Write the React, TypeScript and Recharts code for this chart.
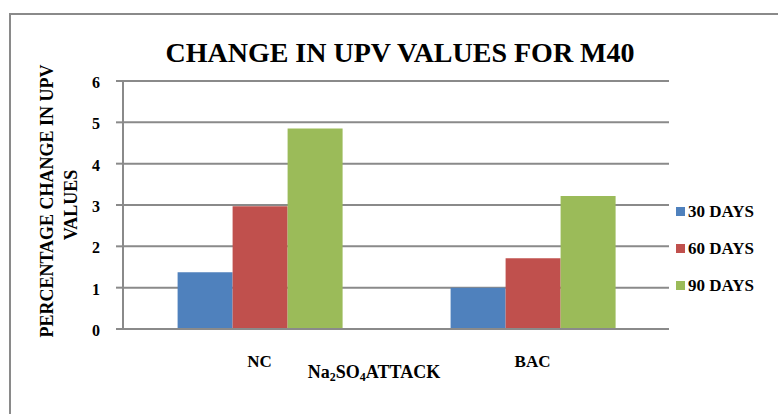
import React from 'react'
import { BarChart, Bar, XAxis, YAxis, CartesianGrid, Legend } from 'recharts'

const categories = ['NC', 'BAC']
const days30 = [1.37, 1.0]
const days60 = [2.97, 1.71]
const days90 = [4.85, 3.22]
const yTicks = [0, 1, 2, 3, 4, 5, 6]

const seriesNames = ['30 DAYS', '60 DAYS', '90 DAYS']
const seriesColors = ['#4F81BD', '#C0504D', '#9BBB59']

const data = categories.map((c, i) => ({
  name: c,
  d30: days30[i],
  d60: days60[i],
  d90: days90[i],
}))

const FONT = '"Liberation Serif", Tinos, "DejaVu Serif", serif'
const GRID = '#8a8a8a'
const txt = (size: number): React.CSSProperties => ({ fontFamily: FONT, fontWeight: 'bold', fontSize: size })

function XTick(props: any) {
  const { x, y, payload } = props
  return (
    <text x={x} y={y} dy={11} textAnchor="middle" fill="#000" style={txt(17)}>
      {payload.value}
    </text>
  )
}

function YTick(props: any) {
  const { x, y, payload } = props
  return (
    <text x={x} y={y} dy={7} textAnchor="end" fill="#000" style={txt(16)}>
      {payload.value}
    </text>
  )
}

function LegendBox(props: any) {
  const items = props.payload || []
  return (
    <div style={{ ...txt(17), color: '#000', whiteSpace: 'nowrap' }}>
      {items.map((it: any) => (
        <div key={it.value} style={{ display: 'flex', alignItems: 'center', height: 37 }}>
          <span style={{ width: 9, height: 9, flexShrink: 0, background: it.color, marginRight: 3 }} />
          <span>{it.value}</span>
        </div>
      ))}
    </div>
  )
}

export default function App() {
  return (
    <div style={{ position: 'absolute', left: 0, top: 0, width: 778, height: 414, overflow: 'hidden', background: '#fff' }}>
      <BarChart
        width={778}
        height={414}
        data={data}
        margin={{ top: 81, right: 109, bottom: 0, left: 0 }}
        barCategoryGap="20%"
        barGap={0}
      >
        <CartesianGrid vertical={false} stroke={GRID} strokeWidth={2} />
        <XAxis
          dataKey="name"
          height={85}
          axisLine={{ stroke: GRID, strokeWidth: 2 }}
          tickLine={false}
          tickSize={0}
          tickMargin={27}
          tick={<XTick />}
        />
        <YAxis
          width={123}
          domain={[0, 6]}
          ticks={yTicks}
          interval={0}
          axisLine={{ stroke: GRID, strokeWidth: 2 }}
          tickLine={{ stroke: GRID, strokeWidth: 2 }}
          tickSize={7}
          tickMargin={16}
          tick={<YTick />}
        />
        <Legend
          layout="vertical"
          align="right"
          verticalAlign="top"
          wrapperStyle={{ left: 676, top: 193, width: 0, height: 0, overflow: 'visible' }}
          content={<LegendBox />}
        />
        <Bar dataKey="d30" name={seriesNames[0]} fill={seriesColors[0]} isAnimationActive={false} />
        <Bar dataKey="d60" name={seriesNames[1]} fill={seriesColors[1]} isAnimationActive={false} />
        <Bar dataKey="d90" name={seriesNames[2]} fill={seriesColors[2]} isAnimationActive={false} />
      </BarChart>
      <svg
        width={778}
        height={414}
        style={{ position: 'absolute', left: 0, top: 0, pointerEvents: 'none' }}
      >
        <rect x={10} y={14} width={800} height={420} fill="none" stroke={GRID} strokeWidth={2} />
        <text x={400} y={62} textAnchor="middle" style={txt(28)}>
          CHANGE IN UPV VALUES FOR M40
        </text>
        <text x={53} y={201} textAnchor="middle" transform="rotate(-90 53 201)" style={txt(18)}>
          PERCENTAGE CHANGE IN UPV
        </text>
        <text x={77} y={205} textAnchor="middle" transform="rotate(-90 77 205)" style={txt(18)}>
          VALUES
        </text>
        <text x={374} y={378} textAnchor="middle" style={txt(18)}>
          Na<tspan fontSize={12} dy={3}>2</tspan>
          <tspan dy={-3}>SO</tspan>
          <tspan fontSize={12} dy={3}>4</tspan>
          <tspan dy={-3}>ATTACK</tspan>
        </text>
      </svg>
    </div>
  )
}
